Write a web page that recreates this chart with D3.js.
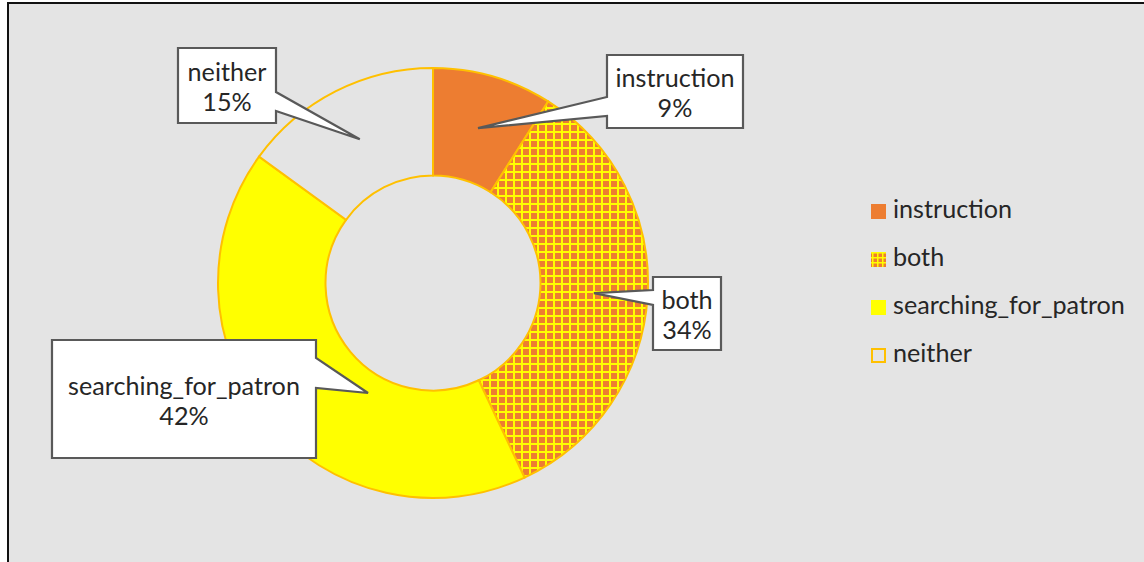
<!DOCTYPE html>
<html><head><meta charset="utf-8">
<script src="https://cdn.jsdelivr.net/npm/d3@7"></script>
<style>html,body{margin:0;padding:0;background:#fff;}svg{display:block;}</style>
</head><body>
<svg id="chart" width="1144" height="562"></svg>
<script>
const categories = ["instruction", "both", "searching_for_patron", "neither"];
const values = [9, 34, 42, 15];
const percentLabels = ["9%", "34%", "42%", "15%"];

const W = 1144, H = 562;
const svg = d3.select("#chart");
const FONT = "Lato, 'Open Sans', sans-serif";

// font size calibration so widths resemble the reference
const probe = svg.append("text").attr("font-family", FONT).attr("font-size", 20).text("searching_for_patron");
const pw = probe.node().getComputedTextLength();
probe.remove();
const FS = 20 * 232 / pw;

// frame
svg.append("rect").attr("x", 8).attr("y", 3).attr("width", W + 10).attr("height", H + 10)
  .attr("fill", "#E4E4E4").attr("stroke", "#111").attr("stroke-width", 2);

// pattern
const defs = svg.append("defs");
const pat = defs.append("pattern").attr("id", "grid").attr("patternUnits", "userSpaceOnUse")
  .attr("width", 8).attr("height", 8);
pat.append("rect").attr("width", 8).attr("height", 8).attr("fill", "#ED7D31");
pat.append("rect").attr("x", 0).attr("y", 0).attr("width", 2).attr("height", 8).attr("fill", "#FFFF00");
pat.append("rect").attr("x", 0).attr("y", 0).attr("width", 8).attr("height", 2).attr("fill", "#FFFF00");
const patL = defs.append("pattern").attr("id", "gridL").attr("patternUnits", "userSpaceOnUse")
  .attr("width", 5).attr("height", 5).attr("x", 2).attr("y", 2);
patL.append("rect").attr("width", 5).attr("height", 5).attr("fill", "#ED7D31");
patL.append("rect").attr("width", 1.5).attr("height", 5).attr("fill", "#FFFF00");
patL.append("rect").attr("width", 5).attr("height", 1.5).attr("fill", "#FFFF00");

const fills = d3.scaleOrdinal().domain(categories)
  .range(["#ED7D31", "url(#grid)", "#FFFF00", "#E4E4E4"]);
const legendFills = d3.scaleOrdinal().domain(categories)
  .range(["#ED7D31", "url(#gridL)", "#FFFF00", "none"]);

const cx = 433, cy = 283, rOut = 215, rIn = 107.5;
const pie = d3.pie().sort(null).value(d => d.value);
const data = categories.map((c, i) => ({ cat: c, value: values[i], pct: percentLabels[i] }));
const arcs = pie(data);
const arc = d3.arc().innerRadius(rIn).outerRadius(rOut);
const midArc = d3.arc().innerRadius((rIn + rOut) / 2).outerRadius((rIn + rOut) / 2);

const g = svg.append("g").attr("transform", `translate(${cx},${cy})`);
g.selectAll("path.slice").data(arcs).join("path").attr("class", "slice")
  .attr("d", arc).attr("fill", d => fills(d.data.cat))
  .attr("stroke", "#FFC000").attr("stroke-width", 2);

// callouts: box [x0,y0,x1,y1], pointer base on side, tip offset
const boxes = {
  instruction: { box: [607, 55, 743, 128], side: "left", base: [97, 116] },
  both: { box: [653, 277, 721, 350], side: "left", base: [290, 305] },
  searching_for_patron: { box: [52, 340, 316, 458], side: "right", base: [358, 388], tip: [368, 393] },
  neither: { box: [178, 48, 276, 123], side: "right", base: [92, 111] }
};
const ann = svg.append("g");
arcs.forEach(a => {
  const b = boxes[a.data.cat];
  const [x0, y0, x1, y1] = b.box;
  let tip = b.tip;
  if (!tip) { const c = midArc.centroid(a); tip = [cx + c[0], cy + c[1]]; }
  let p;
  if (b.side === "left") {
    p = [[x0, y0], [x1, y0], [x1, y1], [x0, y1], [x0, b.base[1]], tip, [x0, b.base[0]]];
  } else {
    p = [[x0, y0], [x1, y0], [x1, b.base[0]], tip, [x1, b.base[1]], [x1, y1], [x0, y1]];
  }
  ann.append("path").attr("d", d3.line()(p) + "Z")
    .attr("fill", "#fff").attr("stroke", "#595959").attr("stroke-width", 2.2).attr("stroke-linejoin", "miter");
  const mx = (x0 + x1) / 2, my = (y0 + y1) / 2;
  const t = ann.append("text").attr("font-family", FONT).attr("font-size", FS).attr("fill", "#262626")
    .attr("text-anchor", "middle");
  t.append("tspan").attr("x", mx).attr("y", my - 4.5).text(a.data.cat);
  t.append("tspan").attr("x", mx).attr("y", my + 25.5).text(a.data.pct);
});

// legend
const lg = svg.append("g");
const ly = d3.scalePoint().domain(categories).range([211, 355]);
categories.forEach(c => {
  const y = ly(c);
  const sq = lg.append("rect").attr("x", c === "neither" ? 872 : 871).attr("y", c === "neither" ? y - 6 : y - 7)
    .attr("width", c === "neither" ? 13 : 15).attr("height", c === "neither" ? 13 : 15)
    .attr("fill", legendFills(c));
  if (c === "neither") sq.attr("stroke", "#FFC000").attr("stroke-width", 2);
  lg.append("text").attr("x", 893).attr("y", y + 7).attr("font-family", FONT).attr("font-size", FS)
    .attr("fill", "#262626").text(c);
});
</script>
</body></html>
